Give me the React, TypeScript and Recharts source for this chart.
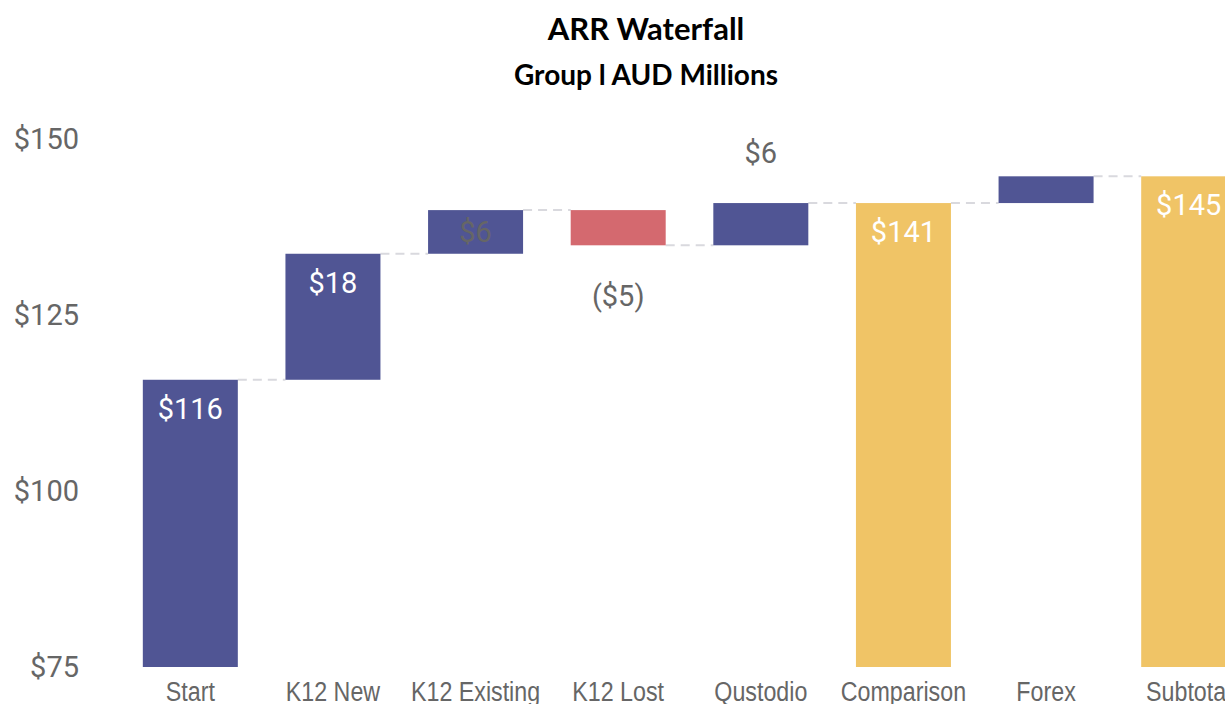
import React from 'react';
import { BarChart, Bar, XAxis, YAxis } from 'recharts';

const categories = ['Start', 'K12 New', 'K12 Existing', 'K12 Lost', 'Qustodio', 'Comparison', 'Forex', 'Subtotal'];
const values = [115.8, 17.9, 6.2, -5.0, 6.0, 140.9, 3.8, 144.7];
const kinds = ['start', 'delta', 'delta', 'delta', 'delta', 'total', 'delta', 'total'];
const labelModes = ['inside', 'inside', 'center', 'below', 'above', 'inside', 'none', 'inside'];
const yTicks = [75, 100, 125, 150];
const Y_MIN = 75;
const Y_MAX = 150;

const BLUE = '#505594';
const RED = '#D4696F';
const YELLOW = '#F0C466';
const GAP_PCT = 0.167;

type Row = { name: string; range: [number, number]; value: number; kind: string; mode: string; label: string };

const rows: Row[] = (() => {
  let running = 0;
  return categories.map((name, i) => {
    const v = values[i];
    let low: number;
    let high: number;
    if (kinds[i] === 'delta') {
      low = Math.min(running, running + v);
      high = Math.max(running, running + v);
      running += v;
    } else {
      low = Y_MIN;
      high = v;
      running = v;
    }
    const label = v < 0 ? `($${Math.round(-v)})` : `$${Math.round(v)}`;
    return { name, range: [low, high], value: v, kind: kinds[i], mode: labelModes[i], label };
  });
})();

const colourOf = (r: Row) => {
  if (r.kind === 'total') return YELLOW;
  if (r.kind === 'start') return BLUE;
  return r.value < 0 ? RED : BLUE;
};

const WaterfallShape = (props: any) => {
  const { x, y, width, height, index } = props;
  const r = rows[index];
  if (!r) return null;
  const gap = (width * 2 * GAP_PCT) / (1 - 2 * GAP_PCT);
  const endY = r.kind === 'delta' && r.value < 0 ? y + height : y;
  const isLast = index === rows.length - 1;
  let label: React.ReactNode = null;
  const cx = x + width / 2;
  const font = { fontFamily: 'Roboto, sans-serif', fontSize: 29 };
  if (r.mode === 'inside') {
    label = (
      <text x={cx} y={y + 29} textAnchor="middle" dominantBaseline="central" fill="#ffffff" style={font}>
        {r.label}
      </text>
    );
  } else if (r.mode === 'center') {
    label = (
      <text x={cx} y={y + height / 2} textAnchor="middle" dominantBaseline="central" fill="#666666" style={font}>
        {r.label}
      </text>
    );
  } else if (r.mode === 'below') {
    label = (
      <text x={cx} y={y + height + 51} textAnchor="middle" dominantBaseline="central" fill="#666666" style={font}>
        {r.label}
      </text>
    );
  } else if (r.mode === 'above') {
    label = (
      <text x={cx} y={y - 50} textAnchor="middle" dominantBaseline="central" fill="#666666" style={font}>
        {r.label}
      </text>
    );
  }
  return (
    <g>
      {!isLast && (
        <line
          x1={x + width}
          x2={x + width + gap}
          y1={endY}
          y2={endY}
          stroke="#d9d9de"
          strokeWidth={2}
          strokeDasharray="9 6"
        />
      )}
      <rect x={x} y={y} width={width} height={height} fill={colourOf(r)} />
      {label}
    </g>
  );
};

const NarrowTick = (props: any) => {
  const { x, y, payload } = props;
  return (
    <g transform={`translate(${x},${y})`}>
      <text
        transform="scale(0.83,1)"
        textAnchor="middle"
        dy="0.71em"
        fill="#666666"
        style={{ fontSize: 28, fontFamily: '"Liberation Sans", Arial, sans-serif' }}
      >
        {payload.value}
      </text>
    </g>
  );
};

export default function App() {
  return (
    <div style={{ position: 'absolute', left: 0, top: 0, width: 1225, height: 704, overflow: 'hidden' }}>
      <div style={{ position: 'absolute', left: 8, top: 8, width: 1274, height: 720 }}>
        <svg width={1274} height={100} style={{ position: 'absolute', left: 0, top: 0 }}>
          <text x={638} y={32} textAnchor="middle" fill="#000" style={{ fontFamily: 'Lato, sans-serif', fontWeight: 700, fontSize: 31 }}>
            ARR Waterfall
          </text>
          <text x={638} y={77} textAnchor="middle" fill="#000" style={{ fontFamily: 'Lato, sans-serif', fontWeight: 700, fontSize: 28 }}>
            Group l AUD Millions
          </text>
        </svg>
        <div style={{ position: 'absolute', left: 0, top: 0 }}>
          <BarChart
            width={1274}
            height={720}
            data={rows}
            margin={{ top: 131, right: 22, bottom: 0, left: 0 }}
            barCategoryGap="16.7%"
          >
            <XAxis
              dataKey="name"
              axisLine={false}
              tickLine={false}
              tickSize={0}
              tickMargin={14}
              height={61}
              interval={0}
              tick={NarrowTick}
            />
            <YAxis
              domain={[Y_MIN, Y_MAX]}
              ticks={yTicks}
              axisLine={false}
              tickLine={false}
              tickSize={0}
              tickMargin={40}
              width={111}
              tickFormatter={(v: number) => `$${v}`}
              tick={{ fill: '#666666', fontSize: 29, fontFamily: 'Roboto, sans-serif' }}
            />
            <Bar dataKey="range" isAnimationActive={false} shape={WaterfallShape} />
          </BarChart>
        </div>
      </div>
    </div>
  );
}
